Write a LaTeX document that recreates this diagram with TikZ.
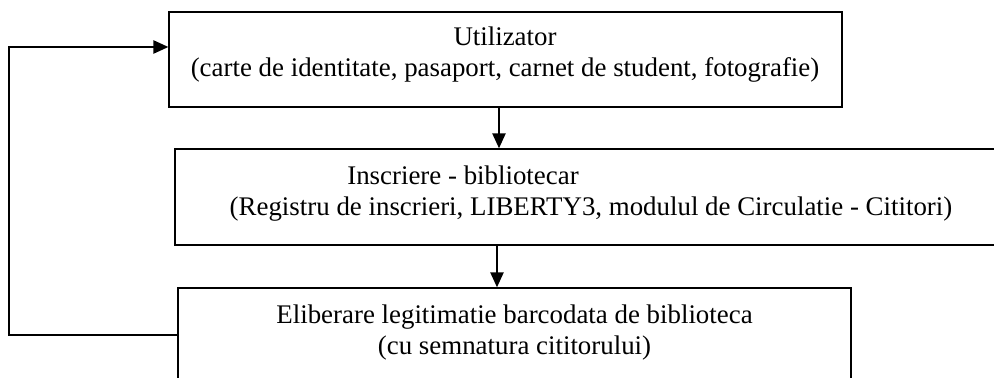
\documentclass[tikz,border=0pt]{standalone}
\usepackage{fontspec}
\setmainfont{Liberation Serif}
\usetikzlibrary{arrows.meta}
\tikzset{
  box/.style={draw, line width=0.8pt, inner sep=0pt},
  txt/.style={anchor=base, inner sep=0pt, font=\fontsize{15.3}{18}\selectfont},
  flow/.style={-{Triangle[length=8.5pt,width=7.5pt]}, line width=1pt},
}
\begin{document}
\begin{tikzpicture}[x=0.02cm,y=-0.02cm]
\useasboundingbox (0,0) rectangle (994,378);
\clip (0,0) rectangle (994,378);
% boxes
\node[box, minimum width=13.46cm, minimum height=1.9cm] (user) at (505.5,59.5) {};
\node[box, minimum width=16.7cm, minimum height=1.92cm] (info) at (592.5,197) {};
\node[box, minimum width=13.46cm, minimum height=1.88cm] (elib) at (514.5,335) {};
% texts
\node[txt] (user1) at (505,46) {Utilizator};
\node[txt] (user2) at (505,77) {(carte de identitate, pasaport, carnet de student, fotografie)};
\node[txt] (info1) at (463,185) {Inscriere - bibliotecar};
\node[txt] (info2) at (591,216) {(Registru de inscrieri, LIBERTY3, modulul de Circulatie - Cititori)};
\node[txt] (elib1) at (514.5,323) {Eliberare legitimatie barcodata de biblioteca};
\node[txt] (elib2) at (514.5,354) {(cu semnatura cititorului)};
% arrows
\draw[flow] (user.south -| 499,0) -- (info.north -| 499,0);
\draw[flow] (info.south -| 497,0) -- (elib.north -| 497,0);
\draw[flow] (elib.west) -- ++(-168,0) |- ([yshift=0.25cm]user.west);
\end{tikzpicture}
\end{document}
